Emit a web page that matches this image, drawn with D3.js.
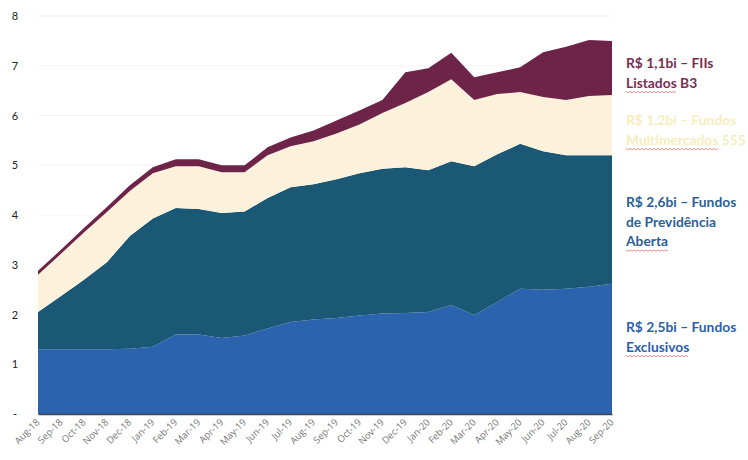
<!DOCTYPE html>
<html><head><meta charset="utf-8">
<script src="https://cdn.jsdelivr.net/npm/d3@7"></script>
<style>body{margin:0;background:#fff}svg{display:block}</style>
</head><body><svg id="c" width="748" height="460"></svg>
<script>
const months = ["Aug-18","Sep-18","Oct-18","Nov-18","Dec-18","Jan-19","Feb-19","Mar-19","Apr-19","May-19","Jun-19","Jul-19","Aug-19","Sep-19","Oct-19","Nov-19","Dec-19","Jan-20","Feb-20","Mar-20","Apr-20","May-20","Jun-20","Jul-20","Aug-20","Sep-20"];
const exclusivos    = [1.30,1.30,1.30,1.30,1.31,1.35,1.60,1.60,1.53,1.58,1.72,1.85,1.90,1.93,1.98,2.02,2.03,2.05,2.19,1.99,2.25,2.52,2.50,2.52,2.56,2.62];
const previdencia   = [0.75,1.07,1.40,1.75,2.27,2.58,2.54,2.52,2.51,2.49,2.62,2.71,2.72,2.79,2.86,2.91,2.93,2.85,2.89,2.99,2.97,2.91,2.78,2.68,2.64,2.58];
const multimercados = [0.75,0.85,0.95,1.01,0.90,0.91,0.84,0.86,0.82,0.79,0.86,0.82,0.86,0.92,0.98,1.12,1.29,1.57,1.65,1.33,1.21,1.04,1.09,1.11,1.19,1.21];
const fiis          = [0.08,0.08,0.09,0.10,0.12,0.12,0.14,0.14,0.14,0.14,0.16,0.18,0.22,0.26,0.28,0.26,0.62,0.48,0.53,0.46,0.44,0.50,0.90,1.07,1.13,1.09];
const yTicks = [0,1,2,3,4,5,6,7,8];
const seriesKeys = ["exclusivos","previdencia","multimercados","fiis"];
const seriesColors = ["#2c63ae","#1b5875","#fcf2dc","#6e2448"];
const legendLines = [
  {key:"fiis", lines:[["R$ 1,1bi – FIIs",""],["Listados"," B3"]], color:"#7a2d52", y:68, wavy:[false,true]},
  {key:"multimercados", lines:[["R$ 1,2bi – Fundos",""],["Multimercados"," 555"]], color:"#f7edbc", y:125, wavy:[false,true]},
  {key:"previdencia", lines:[["R$ 2,6bi – Fundos",""],["de Previdência",""],["Aberta",""]], color:"#2b5f97", y:207, wavy:[false,false,true]},
  {key:"exclusivos", lines:[["R$ 2,5bi – Fundos",""],["Exclusivos",""]], color:"#2b5fae", y:332, wavy:[false,true]}
];

const svg = d3.select("#c");
const x = d3.scalePoint().domain(months).range([38, 612]);
const y = d3.scaleLinear().domain([0, 8]).range([414, 16]);

const table = months.map((m,i)=>({month:m, exclusivos:exclusivos[i], previdencia:previdencia[i], multimercados:multimercados[i], fiis:fiis[i]}));
const stack = d3.stack().keys(seriesKeys)(table);

// gridlines (very faint)
svg.append("g").selectAll("line").data(yTicks.slice(1)).join("line")
  .attr("x1", 38).attr("x2", 612).attr("y1", d=>y(d)).attr("y2", d=>y(d))
  .attr("stroke", "#f1f3f5").attr("stroke-width", 1);

const area = d3.area().x(d=>x(d.data.month)).y0(d=>y(d[0])).y1(d=>y(d[1]));
svg.append("g").selectAll("path").data(stack).join("path")
  .attr("d", area).attr("fill", (d,i)=>seriesColors[i]);

// y axis labels
const yAxis = d3.axisLeft(y).tickValues(yTicks).tickSize(0).tickPadding(0)
  .tickFormat(d=> d===0 ? "-" : d3.format("d")(d));
const ya = svg.append("g").attr("transform","translate(15,0)").call(yAxis);
ya.select(".domain").remove();
ya.selectAll("text").attr("font-family","Lato, 'DejaVu Sans', sans-serif").attr("font-size",11).attr("fill","#222").attr("text-anchor","middle");

// x axis
const xAxis = d3.axisBottom(x).tickSize(0).tickPadding(0);
const xa = svg.append("g").attr("transform","translate(0,414)").call(xAxis);
xa.select(".domain").attr("stroke","#444").attr("stroke-width",1.5);
xa.selectAll("text").attr("font-family","'Open Sans', 'DejaVu Sans', sans-serif").attr("font-size",9.5).attr("fill","#777")
  .attr("text-anchor","end").attr("dy",null).attr("dx",null)
  .attr("transform","translate(0,7) rotate(-45)").attr("y",0).attr("x",0).attr("dominant-baseline","middle");

// legend labels
const lg = svg.append("g").attr("font-family","Lato, 'Open Sans', sans-serif").attr("font-weight",700).attr("font-size",13.8);
legendLines.forEach(item=>{
  item.lines.forEach((ln,j)=>{
    const by = item.y + j*19.5;
    const t = lg.append("text").attr("x",626).attr("y",by).attr("fill",item.color);
    const first = t.append("tspan").text(ln[0]);
    if (ln[1]) t.append("tspan").text(ln[1]);
    if (item.wavy[j]) {
      const w = first.node().getComputedTextLength();
      const pts = [];
      for (let k=0; k<=Math.floor(w/2); k++) pts.push([626 + k*2, by + 4 + (k%2 ? 1.2 : 0)]);
      svg.append("path").attr("d", d3.line()(pts)).attr("fill","none").attr("stroke","#e05050").attr("stroke-width",0.8).attr("opacity",0.8);
    }
  });
});
</script></body></html>
